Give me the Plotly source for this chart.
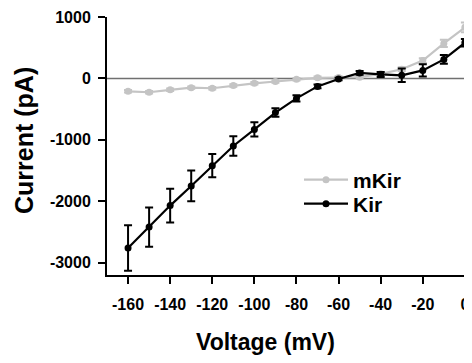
import plotly.graph_objects as go

voltage = [-160, -150, -140, -130, -120, -110, -100, -90, -80, -70, -60, -50, -40, -30, -20, -10, 0]
kir = [-2760, -2420, -2070, -1750, -1420, -1100, -830, -555, -325, -130, -10, 90, 65, 50, 130, 310, 580]
kir_err = [370, 320, 275, 250, 190, 160, 115, 70, 50, 30, 20, 30, 40, 110, 100, 70, 60]
mkir = [-210, -225, -185, -150, -160, -115, -80, -50, -15, 10, 15, 20, 75, 150, 290, 570, 830]
mkir_err = [20, 20, 20, 20, 20, 20, 20, 20, 20, 20, 20, 20, 30, 30, 40, 60, 80]
x_ticks = [-160, -140, -120, -100, -80, -60, -40, -20, 0]
y_ticks = [1000, 0, -1000, -2000, -3000]

FONT = "Liberation Sans"
GRAY = "#c4c4c4"
OFF = 8  # page body margin in the browser

# plot-area geometry in reference pixels
PL, PR, PT, PB = 107, 467, 17, 275
W, H = 472 - OFF, 363 - OFF
PW, PH = PR - PL, PB - PT


def px(xr):
    return (xr - PL) / PW


def py(yr):
    return (PB - yr) / PH


fig = go.Figure()
fig.add_trace(go.Scatter(
    x=voltage, y=mkir, name="mKir", mode="lines+markers", legend="legend",
    line=dict(color=GRAY, width=2.2),
    marker=dict(color=GRAY, size=7),
    error_y=dict(type="data", array=mkir_err, color=GRAY, thickness=2, width=4),
))
fig.add_trace(go.Scatter(
    x=voltage, y=kir, name="Kir", mode="lines+markers", legend="legend2",
    line=dict(color="black", width=2.2),
    marker=dict(color="black", size=7),
    error_y=dict(type="data", array=kir_err, color="black", thickness=2, width=4),
))

fig.add_shape(type="line", xref="x", yref="y", x0=-170, x1=1, y0=0, y1=0,
              line=dict(color="#707070", width=1.5), layer="below")

axis_font = dict(family=FONT, size=16, color="black", weight="bold")
fig.update_xaxes(
    range=[-170, 1], tickvals=x_ticks, ticktext=[str(v) for v in x_ticks],
    showline=True, linecolor="black", linewidth=2, ticks="outside", ticklen=7,
    tickwidth=2, tickcolor="black", showgrid=False, zeroline=False,
    tickfont=axis_font, ticklabelstandoff=7,
)
fig.update_yaxes(
    range=[-3200, 1000], tickvals=y_ticks, ticktext=[str(v) for v in y_ticks],
    showline=True, linecolor="black", linewidth=2, ticks="outside", ticklen=7,
    tickwidth=2, tickcolor="black", showgrid=False, zeroline=False,
    tickfont=axis_font, ticklabelstandoff=4,
)

fig.add_annotation(text="Voltage (mV)", xref="paper", yref="paper",
                   x=px(265), y=py(342),
                   xanchor="center", yanchor="middle", showarrow=False,
                   font=dict(family=FONT, size=23, color="black", weight="bold"))
fig.add_annotation(text="Current (pA)", xref="paper", yref="paper",
                   x=px(24), y=py(141), textangle=-90,
                   xanchor="center", yanchor="middle", showarrow=False,
                   font=dict(family=FONT, size=25, color="black", weight="bold"))

leg_font = dict(family=FONT, size=21, color="black", weight="bold")
fig.update_layout(
    width=W, height=H,
    margin=dict(l=PL - OFF, r=W - (PR - OFF), t=PT - OFF, b=H - (PB - OFF), autoexpand=False),
    plot_bgcolor="white", paper_bgcolor="white",
    showlegend=True,
    legend=dict(x=px(299), y=py(180), xanchor="left", yanchor="middle",
                bgcolor="rgba(0,0,0,0)", itemwidth=44, font=leg_font),
    legend2=dict(x=px(299), y=py(204), xanchor="left", yanchor="middle",
                 bgcolor="rgba(0,0,0,0)", itemwidth=44, font=leg_font),
)

fig.write_html("out.html")
